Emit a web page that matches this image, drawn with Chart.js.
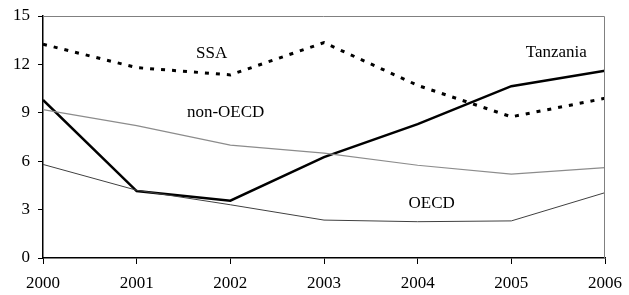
<!DOCTYPE html>
<html>
<head>
<meta charset="utf-8">
<script src="https://cdn.jsdelivr.net/npm/chart.js@4"></script>
<style>
  html, body { margin: 0; padding: 0; background: #fff; }
  #wrap { width: 629px; height: 295px; }
</style>
</head>
<body>
<div id="wrap"><canvas id="grafico" width="629" height="295"></canvas></div>
<script>
// dados
const anos = [2000, 2001, 2002, 2003, 2004, 2005, 2006];
const tanzania = [9.8, 4.15, 3.55, 6.25, 8.3, 10.65, 11.6];
const ssa = [13.25, 11.8, 11.35, 13.35, 10.7, 8.75, 9.9];
const naoOcde = [9.2, 8.2, 7.0, 6.5, 5.75, 5.2, 5.6];
const ocde = [5.8, 4.2, 3.3, 2.35, 2.25, 2.3, 4.05];
const ticksY = [0, 3, 6, 9, 12, 15];

// rótulos dentro do gráfico (posição em unidades de dados)
const rotulos = [
    { texto: "SSA", x: 2001.8, y: 12.65 },
    { texto: "Tanzania", x: 2005.48, y: 12.75 },
    { texto: "non-OECD", x: 2001.95, y: 9.0 },
    { texto: "OECD", x: 2004.15, y: 3.4 }
];

const fonte = "'Liberation Serif', 'Times New Roman', serif";

function pontos(valores) {
    return anos.map((a, i) => ({ x: a, y: valores[i] }));
}

const pluginMoldura = {
    id: "moldura",
    afterDatasetsDraw(chart) {
        const { ctx, chartArea, scales } = chart;
        ctx.save();
        // bordas superior e direita em cinza
        ctx.strokeStyle = "#808080";
        ctx.lineWidth = 1;
        ctx.beginPath();
        ctx.moveTo(chartArea.left, chartArea.top + 0.5);
        ctx.lineTo(chartArea.right - 0.5, chartArea.top + 0.5);
        ctx.lineTo(chartArea.right - 0.5, chartArea.bottom);
        ctx.stroke();
        // textos das séries
        ctx.fillStyle = "#000";
        ctx.font = "17px " + fonte;
        ctx.textAlign = "center";
        ctx.textBaseline = "middle";
        rotulos.forEach((r) => {
            ctx.fillText(r.texto, scales.x.getPixelForValue(r.x), scales.y.getPixelForValue(r.y));
        });
        ctx.restore();
    }
};

new Chart(document.getElementById("grafico").getContext("2d"), {
    type: "line",
    data: {
        datasets: [
            {
                label: "OECD",
                data: pontos(ocde),
                borderColor: "#404040",
                borderWidth: 1,
                pointRadius: 0,
                tension: 0
            },
            {
                label: "non-OECD",
                data: pontos(naoOcde),
                borderColor: "#8c8c8c",
                borderWidth: 1.2,
                pointRadius: 0,
                tension: 0
            },
            {
                label: "SSA",
                data: pontos(ssa),
                borderColor: "#000",
                borderWidth: 3,
                borderDash: [4, 7],
                pointRadius: 0,
                tension: 0
            },
            {
                label: "Tanzania",
                data: pontos(tanzania),
                borderColor: "#000",
                borderWidth: 2.5,
                pointRadius: 0,
                tension: 0
            }
        ]
    },
    options: {
        responsive: false,
        animation: false,
        layout: { padding: { left: 0, right: 24, top: 16, bottom: 0 } },
        plugins: {
            legend: { display: false },
            tooltip: { enabled: false }
        },
        scales: {
            x: {
                type: "linear",
                min: 2000,
                max: 2006,
                afterBuildTicks: (axis) => { axis.ticks = anos.map((a) => ({ value: a })); },
                afterFit: (axis) => {
                    axis.height = 37;
                    axis.paddingLeft = 0;
                    axis.paddingRight = 0;
                },
                ticks: {
                    color: "#000",
                    padding: 9,
                    maxRotation: 0,
                    callback: (v) => String(v),
                    font: { family: fonte, size: 17 }
                },
                grid: { drawOnChartArea: false, tickLength: 6, color: "#000" },
                border: { color: "#000", width: 1.5 }
            },
            y: {
                min: 0,
                max: 15,
                afterBuildTicks: (axis) => { axis.ticks = ticksY.map((v) => ({ value: v })); },
                afterFit: (axis) => {
                    axis.width = 43;
                    axis.paddingTop = 0;
                    axis.paddingBottom = 0;
                },
                ticks: {
                    color: "#000",
                    padding: 8,
                    font: { family: fonte, size: 17 }
                },
                grid: { drawOnChartArea: false, tickLength: 5, color: "#000" },
                border: { color: "#000", width: 1.5 }
            }
        }
    },
    plugins: [pluginMoldura]
});
</script>
</body>
</html>
